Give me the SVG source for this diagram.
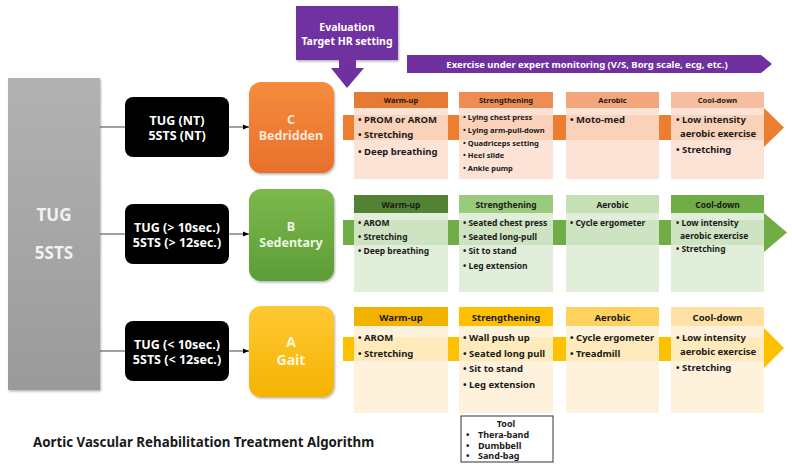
<svg xmlns="http://www.w3.org/2000/svg" width="792" height="467" viewBox="0 0 792 467">
<defs>
<linearGradient id="gGray" x1="0" y1="0" x2="0" y2="1"><stop offset="0" stop-color="#b2b2b2"/><stop offset="1" stop-color="#9a9a9a"/></linearGradient>
<linearGradient id="gC" x1="0" y1="0" x2="0" y2="1"><stop offset="0" stop-color="#f68c3e"/><stop offset="1" stop-color="#e8702b"/></linearGradient>
<linearGradient id="gB" x1="0" y1="0" x2="0" y2="1"><stop offset="0" stop-color="#7cb84c"/><stop offset="1" stop-color="#5d9d37"/></linearGradient>
<linearGradient id="gA" x1="0" y1="0" x2="0" y2="1"><stop offset="0" stop-color="#ffc935"/><stop offset="1" stop-color="#f4b300"/></linearGradient>
<filter id="sh" x="-10%" y="-10%" width="130%" height="130%"><feDropShadow dx="1" dy="1.5" stdDeviation="1.2" flood-color="#000" flood-opacity="0.3"/></filter>
<marker id="ah" viewBox="0 0 10 10" refX="10" refY="5" markerWidth="6" markerHeight="6" orient="auto"><path d="M0,1 L10,5 L0,9 z" fill="#000"/></marker>
</defs>
<style>
text{font-family:"Noto Sans","Liberation Sans",sans-serif;font-weight:bold}
.w{fill:#fff}
.c{text-anchor:middle}
.k{fill:#1a1a1a}
.line{stroke:#444;stroke-width:1;fill:none}
.hc{font-size:7.5px}
.ic{font-size:9.5px}
.is{font-size:7.5px}
.hb{font-size:8.5px}
.ib{font-size:8.5px}
.ha{font-size:9.5px}
.ia{font-size:9.5px}
.lv{font-size:12.5px}
</style>
<rect width="792" height="467" fill="#fff"/>

<g id="screen">
<rect x="8" y="78" width="92" height="312" fill="url(#gGray)" filter="url(#sh)"/>
<text x="54" y="221" class="w c" style="font-size:17px;fill:#f2f2f2">TUG</text>
<text x="54" y="259" class="w c" style="font-size:17px;fill:#f2f2f2">5STS</text>
</g>

<g id="connectors">
<line class="line" x1="100" y1="127" x2="125" y2="127"/>
<line class="line" x1="100" y1="234" x2="125" y2="234"/>
<line class="line" x1="100" y1="351" x2="125" y2="351"/>
<line class="line" x1="229" y1="127" x2="249" y2="127" marker-end="url(#ah)"/>
<line class="line" x1="229" y1="234" x2="249" y2="234" marker-end="url(#ah)"/>
<line class="line" x1="229" y1="351" x2="249" y2="351" marker-end="url(#ah)"/>
</g>

<g id="crit-c">
<rect x="125" y="97" width="104" height="60" rx="8" fill="#000"/>
<text x="177" y="125" class="w c" style="font-size:12.5px">TUG (NT)</text>
<text x="177" y="140" class="w c" style="font-size:12.5px">5STS (NT)</text>
</g>
<g id="crit-b">
<rect x="125" y="204" width="104" height="60" rx="8" fill="#000"/>
<text x="177" y="232" class="w c" style="font-size:12.5px">TUG (&gt; 10sec.)</text>
<text x="177" y="247" class="w c" style="font-size:12.5px">5STS (&gt; 12sec.)</text>
</g>
<g id="crit-a">
<rect x="125" y="321" width="104" height="60" rx="8" fill="#000"/>
<text x="177" y="349" class="w c" style="font-size:12.5px">TUG (&lt; 10sec.)</text>
<text x="177" y="364" class="w c" style="font-size:12.5px">5STS (&lt; 12sec.)</text>
</g>

<g id="level-c">
<rect x="249" y="82" width="85" height="91" rx="12" fill="url(#gC)" filter="url(#sh)"/>
<text x="291" y="124" class="c lv" style="fill:#fde6d6">C</text>
<text x="291" y="140" class="c lv" style="fill:#fde6d6">Bedridden</text>
</g>
<g id="level-b">
<rect x="249" y="189" width="85" height="92" rx="12" fill="url(#gB)" filter="url(#sh)"/>
<text x="291" y="231" class="c lv" style="fill:#eef6e8">B</text>
<text x="291" y="247" class="c lv" style="fill:#eef6e8">Sedentary</text>
</g>
<g id="level-a">
<rect x="249" y="306" width="85" height="91" rx="12" fill="url(#gA)" filter="url(#sh)"/>
<text x="291" y="347" class="c" style="font-size:14px;fill:#fff6dc">A</text>
<text x="291" y="365" class="c" style="font-size:14px;fill:#fff6dc">Gait</text>
</g>

<g id="evaluation">
<rect x="296" y="6" width="102" height="54" fill="#7030a0" filter="url(#sh)"/>
<path d="M339,59 L356,59 L356,68 L364,68 L347,88 L331,68 L339,68 z" fill="#7030a0"/>
<text x="347" y="31" class="w c" style="font-size:10.5px">Evaluation</text>
<text x="347" y="45" class="w c" style="font-size:10.5px">Target HR setting</text>
</g>
<g id="monitoring">
<path d="M407,55 L761,55 L772,64 L761,73 L407,73 z" fill="#7030a0"/>
<text x="587" y="67.5" class="w c" style="font-size:9.5px">Exercise under expert monitoring (V/S, Borg scale, ecg, etc.)</text>
</g>

<g id="row-c">
<rect x="343" y="115" width="425" height="25" fill="#ed7d31"/>
<path d="M764,108 L784,127.5 L764,147 z" fill="#ed7d31"/>
<rect x="354" y="92" width="94" height="16" fill="#e57a35"/>
<rect x="459" y="92" width="94" height="16" fill="#ee8c54"/>
<rect x="566" y="92" width="93" height="16" fill="#f3a67c"/>
<rect x="671" y="92" width="93" height="16" fill="#f6bea0"/>
<g fill="#fbdfcf" fill-opacity="0.87">
<rect x="354" y="108" width="94" height="71"/>
<rect x="459" y="108" width="94" height="71"/>
<rect x="566" y="108" width="93" height="71"/>
<rect x="671" y="108" width="93" height="71"/>
</g>
<g class="k">
<text x="401" y="103" class="c hc">Warm-up</text>
<text x="506" y="103" class="c hc">Strengthening</text>
<text x="612.5" y="103" class="c hc">Aerobic</text>
<text x="717.5" y="103" class="c hc">Cool-down</text>
<text x="358" y="123" class="ic">• PROM or AROM</text>
<text x="358" y="138" class="ic">• Stretching</text>
<text x="358" y="155" class="ic">• Deep breathing</text>
<text x="463" y="120" class="is">• Lying chest press</text>
<text x="463" y="133" class="is">• Lying arm-pull-down</text>
<text x="463" y="146" class="is">• Quadriceps setting</text>
<text x="463" y="158" class="is">• Heel slide</text>
<text x="463" y="171" class="is">• Ankle pump</text>
<text x="570" y="123" class="ic">• Moto-med</text>
<text x="676" y="123" class="ic">• Low intensity</text>
<text x="680" y="137" class="ic">aerobic exercise</text>
<text x="676" y="153" class="ic">• Stretching</text>
</g>
</g>

<g id="row-b">
<rect x="343" y="220" width="425" height="25" fill="#70ad47"/>
<path d="M764,213 L787,232.5 L764,252 z" fill="#70ad47"/>
<rect x="354" y="195" width="94" height="18" fill="#548235"/>
<rect x="459" y="195" width="94" height="18" fill="#9acb7c"/>
<rect x="566" y="195" width="93" height="18" fill="#c5e0b4"/>
<rect x="671" y="195" width="93" height="18" fill="#70ad47"/>
<g fill="#dcebd3" fill-opacity="0.87">
<rect x="354" y="213" width="94" height="79"/>
<rect x="459" y="213" width="94" height="79"/>
<rect x="566" y="213" width="93" height="79"/>
<rect x="671" y="213" width="93" height="79"/>
</g>
<g class="k">
<text x="401" y="208" class="c hb">Warm-up</text>
<text x="506" y="208" class="c hb">Strengthening</text>
<text x="612.5" y="208" class="c hb">Aerobic</text>
<text x="717.5" y="208" class="c hb">Cool-down</text>
<text x="358" y="226" class="ib">• AROM</text>
<text x="358" y="240" class="ib">• Stretching</text>
<text x="358" y="254" class="ib">• Deep breathing</text>
<text x="463" y="226" class="ib">• Seated chest press</text>
<text x="463" y="240" class="ib">• Seated long-pull</text>
<text x="463" y="254" class="ib">• Sit to stand</text>
<text x="463" y="269" class="ib">• Leg extension</text>
<text x="570" y="226" class="ib">• Cycle ergometer</text>
<text x="676" y="226" class="ib">• Low intensity</text>
<text x="680" y="239" class="ib">aerobic exercise</text>
<text x="676" y="252" class="ib">• Stretching</text>
</g>
</g>

<g id="row-a">
<rect x="343" y="337" width="425" height="24" fill="#ffc000"/>
<path d="M764,328 L784,348 L764,368 z" fill="#ffc000"/>
<rect x="354" y="307" width="94" height="19" fill="#f2b200"/>
<rect x="459" y="307" width="94" height="19" fill="#ffc000"/>
<rect x="566" y="307" width="93" height="19" fill="#ffd15e"/>
<rect x="671" y="307" width="93" height="19" fill="#ffe1a6"/>
<g fill="#fff0d8" fill-opacity="0.87">
<rect x="354" y="326" width="94" height="87"/>
<rect x="459" y="326" width="94" height="87"/>
<rect x="566" y="326" width="93" height="87"/>
<rect x="671" y="326" width="93" height="87"/>
</g>
<g class="k">
<text x="401" y="321" class="c ha">Warm-up</text>
<text x="506" y="321" class="c ha">Strengthening</text>
<text x="612.5" y="321" class="c ha">Aerobic</text>
<text x="717.5" y="321" class="c ha">Cool-down</text>
<text x="358" y="341" class="ia">• AROM</text>
<text x="358" y="357" class="ia">• Stretching</text>
<text x="463" y="341" class="ia">• Wall push up</text>
<text x="463" y="357" class="ia">• Seated long pull</text>
<text x="463" y="372" class="ia">• Sit to stand</text>
<text x="463" y="388" class="ia">• Leg extension</text>
<text x="570" y="341" class="ia">• Cycle ergometer</text>
<text x="570" y="357" class="ia">• Treadmill</text>
<text x="676" y="341" class="ia">• Low intensity</text>
<text x="680" y="355" class="ia">aerobic exercise</text>
<text x="676" y="371" class="ia">• Stretching</text>
</g>
</g>

<g id="tool">
<rect x="461" y="416" width="92" height="46" fill="#fff" stroke="#333" stroke-width="1"/>
<g class="k" style="font-size:9px">
<text x="506" y="427" class="c">Tool</text>
<text x="466" y="438">•</text><text x="478" y="438">Thera-band</text>
<text x="466" y="448.5">•</text><text x="478" y="448.5">Dumbbell</text>
<text x="466" y="459">•</text><text x="478" y="459">Sand-bag</text>
</g>
</g>

<text id="title" x="33" y="447" class="k" style="font-size:13.3px">Aortic Vascular Rehabilitation Treatment Algorithm</text>
</svg>
